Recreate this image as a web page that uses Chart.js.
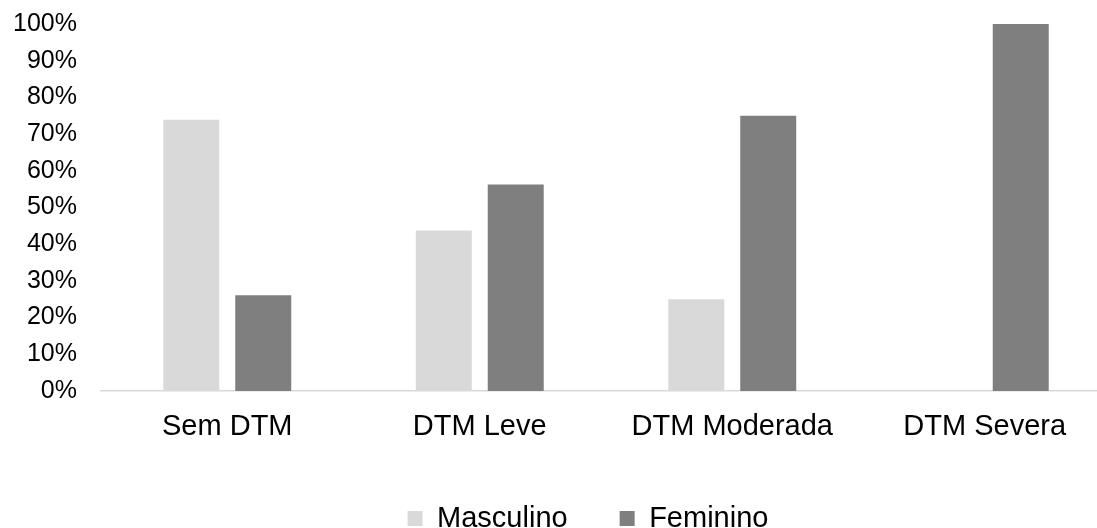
<!DOCTYPE html>
<html lang="pt">
<head>
    <meta charset="UTF-8">
    <title>DTM por sexo</title>
    <style>
        html, body {
            margin: 0;
            background: #ffffff;
            overflow: hidden;
        }
        canvas {
            display: block;
        }
    </style>
</head>
<body>
    <canvas id="dtmChart" width="1176" height="543"></canvas>
    <script src="https://cdn.jsdelivr.net/npm/chart.js"></script>
    <script>
        // Categories and percentages per sex
        const categorias = ['Sem DTM', 'DTM Leve', 'DTM Moderada', 'DTM Severa'];
        const masculino = [73.9, 43.75, 25, 0];
        const feminino = [26.1, 56.25, 75, 100];
        const serieNomes = ['Masculino', 'Feminino'];

        const fonte = "'Liberation Sans', Arial, sans-serif";

        const ctx = document.getElementById('dtmChart').getContext('2d');
        new Chart(ctx, {
            type: 'bar',
            data: {
                labels: categorias,
                datasets: [{
                    label: serieNomes[0],
                    data: masculino,
                    backgroundColor: '#d9d9d9',
                    borderWidth: 0
                }, {
                    label: serieNomes[1],
                    data: feminino,
                    backgroundColor: '#7f7f7f',
                    borderWidth: 0
                }]
            },
            options: {
                responsive: false,
                animation: false,
                devicePixelRatio: 1,
                categoryPercentage: 0.57,
                barPercentage: 0.778,
                layout: {
                    padding: { top: 24, left: 0, right: 0, bottom: 0 }
                },
                plugins: {
                    tooltip: { enabled: false },
                    legend: {
                        position: 'bottom',
                        labels: {
                            boxWidth: 15,
                            boxHeight: 15,
                            padding: 52,
                            color: '#000000',
                            font: { family: fonte, size: 29 }
                        }
                    }
                },
                scales: {
                    x: {
                        grid: { display: false, drawTicks: false },
                        border: { display: true, color: '#d9d9d9', width: 1.5 },
                        ticks: {
                            padding: 19,
                            color: '#000000',
                            font: { family: fonte, size: 29 }
                        },
                        afterFit: function(scale) {
                            scale.height = 61;
                        }
                    },
                    y: {
                        min: 0,
                        max: 100,
                        grid: { display: false, drawTicks: false },
                        border: { display: false },
                        ticks: {
                            stepSize: 10,
                            padding: 24,
                            color: '#000000',
                            font: { family: fonte, size: 25 },
                            callback: function(v) { return v + '%'; }
                        },
                        afterFit: function(scale) {
                            scale.width = 101;
                            // top gap comes from layout padding only
                            scale.paddingTop = 0;
                            scale.paddingBottom = 0;
                        }
                    },
                    // empty right margin so the plot runs past the page edge
                    margem: {
                        type: 'linear',
                        position: 'right',
                        grid: { display: false, drawTicks: false },
                        border: { display: false },
                        ticks: { display: false },
                        afterFit: function(scale) {
                            scale.width = 65;
                            scale.paddingTop = 0;
                            scale.paddingBottom = 0;
                        }
                    }
                }
            }
        });
    </script>
</body>
</html>
